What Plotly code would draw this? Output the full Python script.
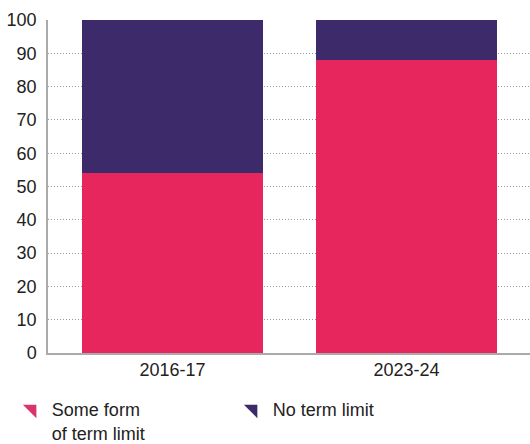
import plotly.graph_objects as go

categories = ["2016-17", "2023-24"]
some_limit = [54, 88]
no_limit = [46, 12]
series_names = ["Some form<br>of term limit", "No term limit"]
y_ticks = [0, 10, 20, 30, 40, 50, 60, 70, 80, 90, 100]

pink = "#E8265E"
purple = "#3D2A6B"

fig = go.Figure()
fig.add_trace(go.Bar(x=categories, y=some_limit, marker_color=pink, marker_line_width=0, showlegend=False))
fig.add_trace(go.Bar(x=categories, y=no_limit, marker_color=purple, marker_line_width=0, showlegend=False))
for name, col in zip(series_names, ["#D9356C", purple]):
    fig.add_trace(go.Scatter(x=[None], y=[None], mode="markers", name=name,
                             marker=dict(symbol="triangle-ne", size=15, color=col)))

fig.update_layout(
    barmode="stack", bargap=0.227,
    width=530, height=444,
    margin=dict(l=48, r=0, t=20, b=91, autoexpand=False),
    plot_bgcolor="white", paper_bgcolor="white",
    font=dict(family="Liberation Sans, Arial, sans-serif", size=18, color="#222"),
    legend=dict(orientation="h", x=-0.075, y=-0.114, xanchor="left", yanchor="top",
                entrywidth=176, entrywidthmode="pixels", itemwidth=30, valign="top",
                traceorder="normal",
                font=dict(size=18, color="#222"), tracegroupgap=0),
)
fig.update_xaxes(range=[-0.532, 1.528], showline=True, linecolor="#aaa", linewidth=1.5,
                 ticks="", showgrid=False, fixedrange=True)
fig.update_yaxes(range=[0, 100], tickvals=y_ticks, showline=True, linecolor="#aaa", linewidth=1.5,
                 showgrid=True, gridcolor="#999", griddash="1px,2px", gridwidth=1,
                 zeroline=False, ticks="", ticklabelstandoff=6)
fig.write_html("out.html")
